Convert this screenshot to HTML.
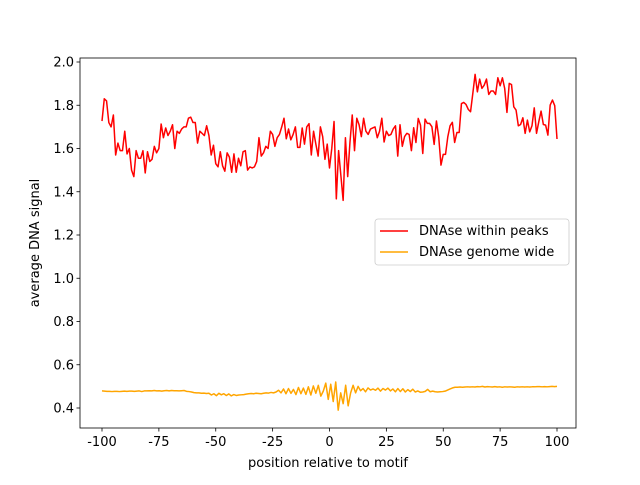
<!DOCTYPE html>
<html><head><meta charset="utf-8"><style>
body{margin:0;background:#fff;font-family:"Liberation Sans","DejaVu Sans",sans-serif}
svg text{font-family:"DejaVu Sans","Liberation Sans",sans-serif;font-size:13px;fill:#000}
</style></head><body>
<svg id="chart" width="640" height="480" xmlns="http://www.w3.org/2000/svg">
<rect width="640" height="480" fill="#fff"/>
<g id="plot"></g>
</svg>
<script>
const xTicks=[-100,-75,-50,-25,0,25,50,75,100];
const yTicks=[0.4,0.6,0.8,1.0,1.2,1.4,1.6,1.8,2.0];
const peaks=[1.727,1.83,1.82,1.72,1.70,1.755,1.57,1.625,1.59,1.59,1.68,1.575,1.6,1.50,1.47,1.59,1.555,1.555,1.59,1.487,1.585,1.54,1.55,1.61,1.58,1.6,1.713,1.65,1.695,1.66,1.68,1.71,1.6,1.68,1.67,1.69,1.70,1.70,1.74,1.745,1.72,1.72,1.625,1.68,1.67,1.66,1.705,1.66,1.57,1.615,1.53,1.515,1.585,1.52,1.495,1.58,1.56,1.49,1.575,1.49,1.555,1.52,1.585,1.59,1.5,1.515,
1.51,1.515,1.54,1.65,1.565,1.58,1.61,1.6,1.68,1.665,1.61,1.65,1.665,1.70,1.74,1.645,1.69,1.64,1.665,1.70,1.605,1.605,1.695,1.62,1.70,1.715,1.57,1.68,1.62,1.565,1.70,1.655,1.55,1.62,1.51,1.60,1.725,1.367,1.59,1.475,1.36,1.65,1.47,1.63,1.755,1.59,1.74,1.71,1.655,1.74,1.68,1.665,1.69,1.695,1.70,1.65,1.68,1.74,1.63,1.68,1.66,1.665,1.69,1.705,1.565,1.71,1.61,1.655,1.67,1.665,1.59,
1.696,1.628,1.739,1.708,1.577,1.736,1.716,1.716,1.701,1.619,1.727,1.654,1.523,1.573,1.573,1.654,1.705,1.721,1.628,1.674,1.674,1.808,1.813,1.804,1.781,1.770,1.855,1.943,1.862,1.921,1.878,1.893,1.921,1.850,1.866,1.866,1.850,1.927,1.890,1.927,1.878,1.767,1.901,1.896,1.793,1.778,1.705,1.711,1.742,1.670,1.731,1.677,1.705,1.788,1.670,1.724,1.773,1.711,1.708,1.662,1.801,1.824,1.798,1.644];
const genome=[0.479,0.478,0.477,0.477,0.476,0.477,0.477,0.476,0.477,0.478,0.477,0.478,0.478,0.477,0.478,0.479,0.476,0.479,0.479,0.480,0.479,0.481,0.479,0.480,0.478,0.480,0.481,0.479,0.481,0.480,0.480,0.479,0.480,0.481,
0.477,0.476,0.474,0.471,0.470,0.470,0.468,0.469,0.467,0.468,0.460,0.466,0.457,0.468,0.461,0.466,0.458,0.465,0.456,0.462,0.458,0.460,0.461,0.462,0.464,0.466,0.467,0.466,0.468,0.467,0.466,0.468,0.470,0.469,0.472,0.470,0.474,
0.482,0.470,0.488,0.466,0.490,0.468,0.486,0.462,0.495,0.466,0.492,0.463,0.498,0.460,0.502,0.468,0.505,0.455,0.478,0.515,0.440,0.510,0.430,0.520,0.390,0.470,0.420,0.505,0.410,0.470,0.505,0.470,0.500,0.480,0.490,0.475,0.493,0.483,0.488,0.482,0.492,0.478,0.490,0.483,0.492,0.479,0.488,0.475,0.490,0.476,0.489,0.474,0.485,0.476,0.487,0.474,0.479,0.473,0.474,0.477,0.486,0.475,0.478,0.475,0.474,0.475,0.476,0.478,0.483,0.488,0.493,0.496,0.496,0.497,0.496,0.497,0.498,0.497,0.498,0.497,0.499,0.498,0.500,0.497,0.499,0.498,0.497,0.499,0.497,0.498,0.496,0.498,0.497,0.498,0.497,0.496,0.498,0.497,0.498,0.497,0.498,0.497,0.498,0.498,0.499,0.499,0.498,0.499,0.498,0.499,0.500,0.499,0.500];
const L=80,R=576,T=58,B=428;
const xs=v=>102+(v+100)*455/200;
const ys=v=>408-(v-0.4)*346/1.6;
const g=document.getElementById('plot');
const NS='http://www.w3.org/2000/svg';
function mk(t,a){const e=document.createElementNS(NS,t);for(const k in a)e.setAttribute(k,a[k]);g.appendChild(e);return e;}
function line(arr,color,name){
  const n=arr.length;
  const pts=arr.map((v,i)=>xs(-100+i*200/(n-1)).toFixed(2)+','+ys(v).toFixed(2)).join(' ');
  const p=mk('polyline',{points:pts,fill:'none',stroke:color,'stroke-width':1.5,'stroke-linejoin':'round'});
  
  
}
line(peaks,'#ff0000','series-within-peaks');
line(genome,'#ffa500','series-genome-wide');
const fr=mk('rect',{x:L,y:T,width:R-L,height:B-T,fill:'none',stroke:'#000','stroke-width':0.8});


xTicks.forEach(v=>{const x=xs(v);
  mk('line',{x1:x,x2:x,y1:B,y2:B+3.5,stroke:'#000','stroke-width':0.8});
  const t=mk('text',{x:x,y:B+18,'text-anchor':'middle'});t.textContent=v;
  
  });
yTicks.forEach(v=>{const y=ys(v);
  mk('line',{x1:L-3.5,x2:L,y1:y,y2:y,stroke:'#000','stroke-width':0.8});
  const t=mk('text',{x:L-6,y:y+4.5,'text-anchor':'end'});t.textContent=v.toFixed(1);
  
  });
const xt=mk('text',{x:328,y:467,'text-anchor':'middle'});xt.textContent='position relative to motif';


const yt=mk('text',{x:39,y:243,'text-anchor':'middle',transform:'rotate(-90 39 243)'});yt.textContent='average DNA signal';


const lg=mk('rect',{x:375,y:219,width:194,height:46,rx:3,fill:'#fff',stroke:'#ccc','stroke-width':0.8,'fill-opacity':0.8});


[['DNAse within peaks','#ff0000',235],['DNAse genome wide','#ffa500',256]].forEach(([s,c,y])=>{
  mk('line',{x1:380,x2:408,y1:y-4,y2:y-4,stroke:c,'stroke-width':1.5});
  const t=mk('text',{x:419,y:y});t.textContent=s;
  
  });
</script>
</body></html>
